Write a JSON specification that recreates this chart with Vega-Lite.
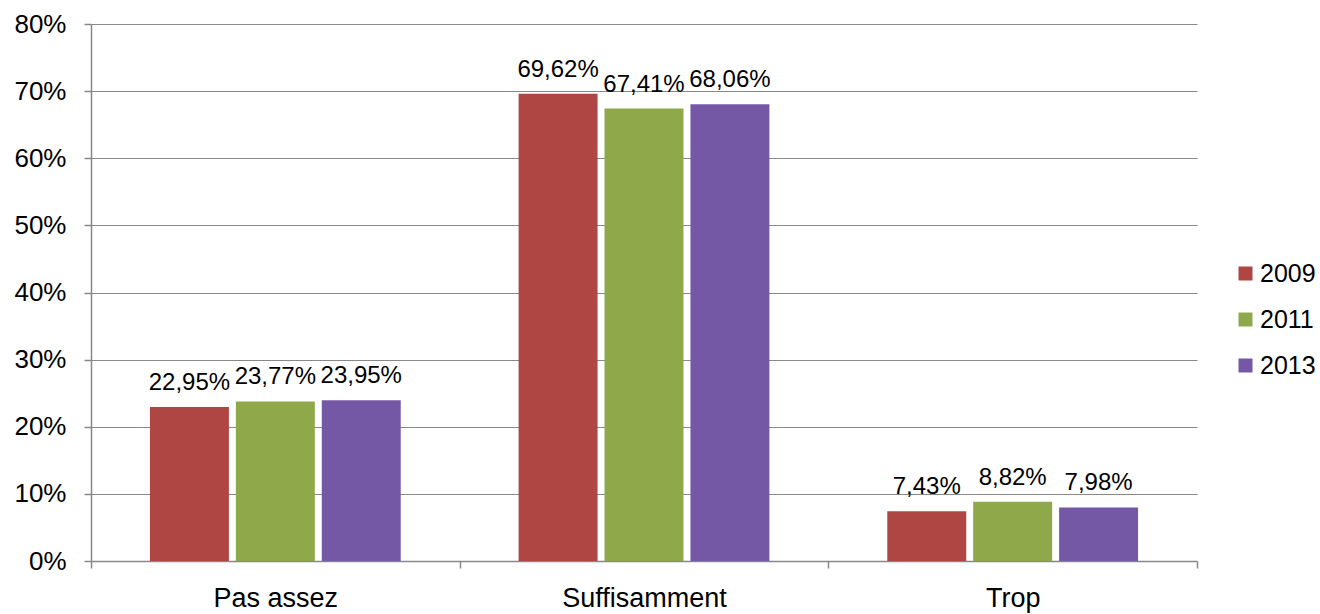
{
  "$schema": "https://vega.github.io/schema/vega-lite/v6.json",
  "width": 1106,
  "height": 537,
  "autosize": "none",
  "padding": {"left": 91, "top": 24, "right": 123, "bottom": 53},
  "background": "white",
  "data": {
    "values": [
      {"categorie": "Pas assez", "annee": "2009", "part": 0.2295},
      {"categorie": "Pas assez", "annee": "2011", "part": 0.2377},
      {"categorie": "Pas assez", "annee": "2013", "part": 0.2395},
      {"categorie": "Suffisamment", "annee": "2009", "part": 0.6962},
      {"categorie": "Suffisamment", "annee": "2011", "part": 0.6741},
      {"categorie": "Suffisamment", "annee": "2013", "part": 0.6806},
      {"categorie": "Trop", "annee": "2009", "part": 0.0743},
      {"categorie": "Trop", "annee": "2011", "part": 0.0882},
      {"categorie": "Trop", "annee": "2013", "part": 0.0798}
    ]
  },
  "encoding": {
    "x": {
      "field": "categorie",
      "type": "nominal",
      "sort": ["Pas assez", "Suffisamment", "Trop"],
      "scale": {"paddingInner": 0, "paddingOuter": 0},
      "axis": {
        "title": null,
        "labelAngle": 0,
        "labelFontSize": 27,
        "tickBand": "extent",
        "tickSize": 7,
        "labelPadding": 17,
        "grid": false
      }
    },
    "xOffset": {
      "field": "annee",
      "type": "nominal",
      "scale": {"paddingInner": 0.081, "paddingOuter": 0.686}
    },
    "y": {
      "field": "part",
      "type": "quantitative",
      "scale": {"domain": [0, 0.8]},
      "axis": {
        "title": null,
        "format": ".0%",
        "labelFontSize": 26,
        "values": [0, 0.1, 0.2, 0.3, 0.4, 0.5, 0.6, 0.7, 0.8],
        "tickSize": 7,
        "labelPadding": 18,
        "grid": true
      }
    }
  },
  "layer": [
    {
      "mark": {"type": "bar"},
      "encoding": {
        "color": {
          "field": "annee",
          "type": "nominal",
          "title": null,
          "scale": {"range": ["#B04644", "#8FA84A", "#7458A5"]},
          "legend": {
            "orient": "none",
            "legendX": 1142,
            "legendY": 237,
            "symbolType": "square",
            "symbolSize": 196,
            "symbolStrokeWidth": 0,
            "labelFontSize": 25,
            "labelOffset": 2,
            "rowPadding": 20
          }
        }
      }
    },
    {
      "mark": {"type": "text", "baseline": "bottom", "dy": -12, "fontSize": 24, "color": "black"},
      "encoding": {
        "text": {"field": "part", "type": "quantitative", "format": ".2%"}
      }
    }
  ],
  "config": {
    "locale": {
      "number": {"decimal": ",", "thousands": " ", "grouping": [3], "currency": ["", " €"]}
    },
    "font": "Liberation Sans",
    "view": {"stroke": null},
    "axis": {
      "labelFont": "Liberation Sans",
      "labelColor": "black",
      "domainColor": "#888888",
      "tickColor": "#888888",
      "gridColor": "#888888",
      "gridOpacity": 1,
      "domainWidth": 1.5,
      "tickWidth": 1.5,
      "gridWidth": 1.2
    },
    "legend": {
      "labelFont": "Liberation Sans",
      "labelColor": "black"
    }
  }
}
